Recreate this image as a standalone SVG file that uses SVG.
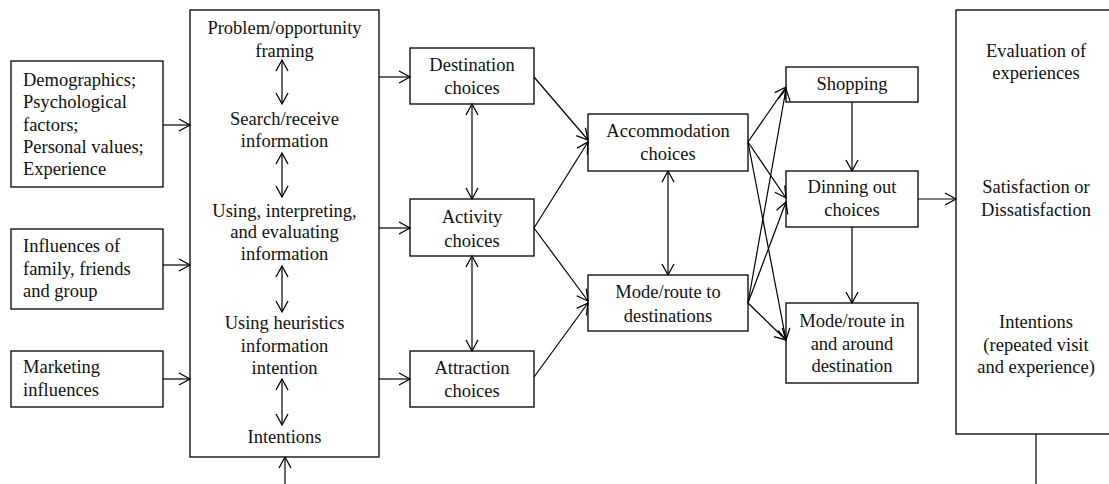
<svg xmlns="http://www.w3.org/2000/svg" width="1109" height="484" viewBox="0 0 1109 484">
<style>
.box{fill:#fff;stroke:#000;stroke-width:1.3}
text{font-family:'Liberation Serif','Times New Roman',serif;font-size:18.5px;fill:#111}
.c{text-anchor:middle}
.ln{stroke:#000;stroke-width:1.2;fill:none}
.a{marker-end:url(#ah)}
.d{marker-start:url(#ah);marker-end:url(#ah)}
</style>
<defs>
<marker id="ah" markerUnits="userSpaceOnUse" markerWidth="14" markerHeight="14" refX="11" refY="6" orient="auto-start-reverse" viewBox="-1 -1 14 14">
<path d="M0,0 L11,6 L0,12" fill="none" stroke="#000" stroke-width="1.3"/>
</marker>
</defs>
<rect width="1109" height="484" fill="#fff"/>

<g id="n-factors">
<rect class="box" x="11" y="61" width="152" height="126"/>
<text x="23" y="86">Demographics;</text>
<text x="23" y="108">Psychological</text>
<text x="23" y="131">factors;</text>
<text x="23" y="153">Personal values;</text>
<text x="23" y="175">Experience</text>
</g>
<g id="n-influences">
<rect class="box" x="11" y="229" width="152" height="80"/>
<text x="23" y="252">Influences of</text>
<text x="23" y="275">family, friends</text>
<text x="23" y="297">and group</text>
</g>
<g id="n-marketing">
<rect class="box" x="11" y="351" width="152" height="56"/>
<text x="23" y="373">Marketing</text>
<text x="23" y="396">influences</text>
</g>

<g id="n-process">
<rect class="box" x="190" y="10" width="189" height="447"/>
<text class="c" x="284.5" y="34">Problem/opportunity</text>
<text class="c" x="284.5" y="57">framing</text>
<text class="c" x="284.5" y="125">Search/receive</text>
<text class="c" x="284.5" y="147">information</text>
<text class="c" x="284.5" y="217">Using, interpreting,</text>
<text class="c" x="284.5" y="238">and evaluating</text>
<text class="c" x="284.5" y="260">information</text>
<text class="c" x="284.5" y="329">Using heuristics</text>
<text class="c" x="284.5" y="352">information</text>
<text class="c" x="284.5" y="374">intention</text>
<text class="c" x="284.5" y="443">Intentions</text>
</g>

<g id="n-destination">
<rect class="box" x="410" y="48" width="124" height="56"/>
<text class="c" x="472" y="71">Destination</text>
<text class="c" x="472" y="94">choices</text>
</g>
<g id="n-activity">
<rect class="box" x="410" y="199" width="124" height="57"/>
<text class="c" x="472" y="223">Activity</text>
<text class="c" x="472" y="247">choices</text>
</g>
<g id="n-attraction">
<rect class="box" x="410" y="351" width="124" height="56"/>
<text class="c" x="472" y="374">Attraction</text>
<text class="c" x="472" y="397">choices</text>
</g>

<g id="n-accommodation">
<rect class="box" x="588" y="114" width="160" height="57"/>
<text class="c" x="668" y="137">Accommodation</text>
<text class="c" x="668" y="160">choices</text>
</g>
<g id="n-mode">
<rect class="box" x="588" y="275" width="160" height="56"/>
<text class="c" x="668" y="298">Mode/route to</text>
<text class="c" x="668" y="322">destinations</text>
</g>

<g id="n-shopping">
<rect class="box" x="786" y="67" width="132" height="35"/>
<text class="c" x="852" y="90">Shopping</text>
</g>
<g id="n-dinning">
<rect class="box" x="786" y="171" width="132" height="56"/>
<text class="c" x="852" y="193">Dinning out</text>
<text class="c" x="852" y="216">choices</text>
</g>
<g id="n-modein">
<rect class="box" x="786" y="303" width="132" height="80"/>
<text class="c" x="852" y="327">Mode/route in</text>
<text class="c" x="852" y="350">and around</text>
<text class="c" x="852" y="372">destination</text>
</g>

<g id="n-evaluation">
<rect class="box" x="956" y="10" width="170" height="424"/>
<text class="c" x="1036" y="57">Evaluation of</text>
<text class="c" x="1036" y="79">experiences</text>
<text class="c" x="1036" y="193">Satisfaction or</text>
<text class="c" x="1036" y="216">Dissatisfaction</text>
<text class="c" x="1036" y="328">Intentions</text>
<text class="c" x="1036" y="351">(repeated visit</text>
<text class="c" x="1036" y="373">and experience)</text>
</g>

<g id="connectors">
<line class="ln a" x1="163" y1="125" x2="190" y2="125"/>
<line class="ln a" x1="163" y1="265" x2="190" y2="265"/>
<line class="ln a" x1="163" y1="379" x2="190" y2="379"/>
<line class="ln a" x1="285" y1="484" x2="285" y2="457"/>
<line class="ln d" x1="282" y1="60" x2="282" y2="104"/>
<line class="ln d" x1="282" y1="153" x2="282" y2="197"/>
<line class="ln d" x1="282" y1="266" x2="282" y2="312"/>
<line class="ln d" x1="282" y1="379" x2="282" y2="425"/>
<line class="ln a" x1="379" y1="77" x2="410" y2="77"/>
<line class="ln a" x1="379" y1="228" x2="410" y2="228"/>
<line class="ln a" x1="379" y1="379" x2="410" y2="379"/>
<line class="ln d" x1="472" y1="104" x2="472" y2="199"/>
<line class="ln d" x1="472" y1="256" x2="472" y2="351"/>
<line class="ln a" x1="534" y1="77" x2="588" y2="140"/>
<line class="ln a" x1="534" y1="228" x2="588" y2="142"/>
<line class="ln a" x1="534" y1="228" x2="588" y2="301"/>
<line class="ln a" x1="534" y1="377" x2="588" y2="303"/>
<line class="ln d" x1="668" y1="171" x2="668" y2="275"/>
<line class="ln a" x1="748" y1="142" x2="786" y2="87"/>
<line class="ln a" x1="748" y1="142" x2="786" y2="198"/>
<line class="ln a" x1="748" y1="142" x2="786" y2="340"/>
<line class="ln a" x1="748" y1="303" x2="786" y2="89"/>
<line class="ln a" x1="748" y1="303" x2="786" y2="202"/>
<line class="ln a" x1="748" y1="303" x2="786" y2="340"/>
<line class="ln a" x1="852" y1="102" x2="852" y2="171"/>
<line class="ln a" x1="852" y1="227" x2="852" y2="303"/>
<line class="ln a" x1="918" y1="199" x2="956" y2="199"/>
<line class="ln" x1="1036" y1="434" x2="1036" y2="484"/>
</g>
</svg>
